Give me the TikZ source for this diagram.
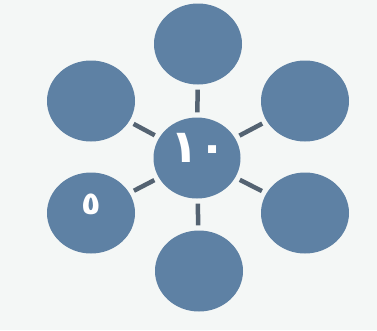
\documentclass[tikz,border=0pt]{standalone}
\usepackage{fontspec}
\newfontfamily\arabicfont[Script=Arabic]{DejaVu Sans}
\usetikzlibrary{shapes.geometric}
\definecolor{discblue}{RGB}{94,129,164}
\definecolor{spokegrey}{RGB}{84,99,114}
\definecolor{paper}{RGB}{244,247,246}
\begin{document}
\begin{tikzpicture}[x=1pt,y=-1pt,
  disc/.style={ellipse,fill=discblue,minimum width=88pt,minimum height=81pt,inner sep=0pt},
  spoke/.style={draw=spokegrey,line width=4.5pt,shorten <=5pt,shorten >=5pt},
  digit/.style={text=white,font=\arabicfont}]
  \fill[paper] (0,0) rectangle (377,330);
  \useasboundingbox (0,0) rectangle (377,330);

  \node[disc,minimum width=87pt] (ctr) at (197,158) {};
  \node[disc] (top) at (198,44) {};
  \node[disc] (ul) at (91,101) {};
  \node[disc] (ur) at (305,101) {};
  \node[disc] (ll) at (91,213) {};
  \node[disc] (lr) at (305,213) {};
  \node[disc] (bot) at (199,271) {};

  \foreach \n in {top,ul,ur,ll,lr,bot}
  \draw[spoke] (\n) -- (ctr);

  \node[digit,font=\arabicfont\bfseries\fontsize{46}{46}\selectfont] (ten) at (199,148) {١٠};
  \node[digit,font=\arabicfont\bfseries\fontsize{32}{32}\selectfont] (five) at (91,204) {٥};
\end{tikzpicture}
\end{document}
